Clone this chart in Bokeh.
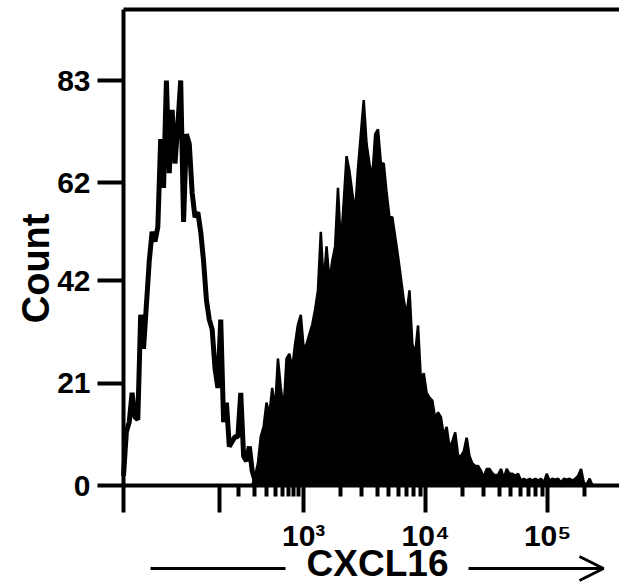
import math
from bokeh.plotting import figure
from bokeh.models import FixedTicker, Arrow, OpenHead, Range1d, LinearAxis
from bokeh.core.properties import value
from bokeh.embed import file_html
from bokeh.resources import INLINE

# Display channels of a biexponential axis (one decade = 256 channels)
iso_channel = list(range(0, 288, 6))
iso_count = [2, 11, 13, 19, 14, 13.5, 35, 28, 37, 46,
             52, 50, 53, 71, 61, 83, 64, 77, 66, 74,
             83, 54, 72, 70, 60, 55, 56, 52, 46, 38,
             34, 32, 24, 20, 34, 13, 17, 8, 9, 10,
             10, 19, 6, 5, 8, 3, 1, 0]

cxcl16_channel = list(range(270, 990, 6))
cxcl16_count = [0, 2, 4.5, 10, 12, 17, 14.5, 20, 15.5, 26,
                20, 15.5, 26, 27, 24, 29, 33, 35, 28, 29,
                31, 33, 36, 40, 52, 41, 49, 42, 46, 49,
                61, 49, 58, 67.5, 64.5, 60, 56, 65, 72, 79,
                70, 66, 63, 72, 73, 66, 66, 60, 55, 55,
                51, 47, 42.5, 38, 35, 40, 29, 27, 32.8, 21.5,
                23, 19, 18, 17.4, 13.7, 15, 14, 10.2, 12, 7.8,
                9, 10.9, 6.1, 6, 7, 9.8, 6, 4.5, 4, 4,
                3, 1.7, 3.4, 3.4, 2.5, 2, 2.2, 3.4, 1.4, 3.4,
                2.4, 2.4, 2, 2.4, 1, 1.4, 1, 1.4, 1, 1.4,
                1, 1.4, 0.6, 2.4, 1, 1.4, 1.2, 1.4, 0.6, 1.4,
                1.2, 1.4, 1, 1.4, 2, 3.4, 0.5, 0.3, 1.4, 0]

y_ticks = [0, 21, 42, 62, 83]
x_major = [0, 201, 378, 634, 890]
x_major_labels = ["", "", "10\u00b3", "10\u2074", "10\u2075"]
x_minor_low = [241, 275, 300, 319, 334, 346, 357, 367]
decade_multipliers = [2, 3, 4, 5, 6, 7, 8, 9]
x_title = "CXCL16"
y_title = "Count"


def channel_of(v):
    return 378 + 256 * math.log10(v / 1000.0)


x_minor = list(x_minor_low)
for dec in [1e3, 1e4]:
    for m in decade_multipliers:
        x_minor.append(channel_of(m * dec))
x_minor.append(channel_of(2e5))

FONT = "Liberation Sans"
X_START, X_END = -258.1, 1040.7
Y_START, Y_END = -20.9, 99.4
Y_TOP = 97.55

p = figure(width=619, height=587, x_range=Range1d(X_START, X_END),
           y_range=Range1d(Y_START, Y_END),
           output_backend="svg", toolbar_location=None, min_border=0)
p.outline_line_color = None
p.grid.visible = False
p.background_fill_color = "white"
p.border_fill_color = "white"

p.varea(x=cxcl16_channel, y1=0, y2=cxcl16_count, fill_color="black")
p.line(cxcl16_channel, cxcl16_count, line_width=2.5, line_color="black")
p.line(iso_channel, iso_count, line_width=5, line_color="black")


def style_common(ax):
    ax.axis_line_width = 4
    ax.axis_line_color = "black"
    ax.major_tick_line_width = 4
    ax.major_tick_line_color = "black"
    ax.major_tick_in = 0
    ax.major_label_text_font = FONT
    ax.major_label_text_font_style = "bold"
    ax.major_label_text_font_size = "30px"
    ax.major_label_text_color = "black"


xa = p.xaxis[0]
xa.fixed_location = 0
xa.bounds = (0, X_END)
xa.ticker = FixedTicker(ticks=x_major, minor_ticks=x_minor)
xa.major_label_overrides = {float(t): l for t, l in zip(x_major, x_major_labels)}
style_common(xa)
xa.major_tick_out = 27
xa.minor_tick_line_width = 4
xa.minor_tick_line_color = "black"
xa.minor_tick_out = 11
xa.minor_tick_in = 0
xa.major_label_standoff = 6

ya = p.yaxis[0]
ya.fixed_location = 0
ya.bounds = (0, Y_TOP)
ya.ticker = FixedTicker(ticks=y_ticks, minor_ticks=[])
style_common(ya)
ya.major_tick_out = 26
ya.major_label_standoff = 7

top = LinearAxis(fixed_location=Y_TOP, bounds=(0, X_END),
                 ticker=FixedTicker(ticks=[], minor_ticks=[]),
                 axis_line_width=4, axis_line_color="black",
                 major_label_text_font_size="0px")
p.add_layout(top, "above")

p.text(x=[-184.6], y=[44.5], text=[y_title], angle=math.pi / 2,
       text_align="center", text_baseline="middle",
       text_font=value(FONT), text_font_style="bold", text_font_size="38px",
       text_color="black")
p.text(x=[533], y=[-15.9], text=[x_title],
       text_align="center", text_baseline="middle",
       text_font=value(FONT), text_font_style="bold", text_font_size="37px",
       text_color="black")

p.add_layout(Arrow(end=None, x_start=56.7, y_start=-17.0, x_end=339.9, y_end=-17.0,
                   line_width=3, line_color="black"))
p.add_layout(Arrow(end=OpenHead(size=24, line_width=3, line_color="black"),
                   x_start=723.9, y_start=-17.0, x_end=1007.1, y_end=-17.0,
                   line_width=3, line_color="black"))

open("out.html", "w").write(file_html(p, INLINE))
